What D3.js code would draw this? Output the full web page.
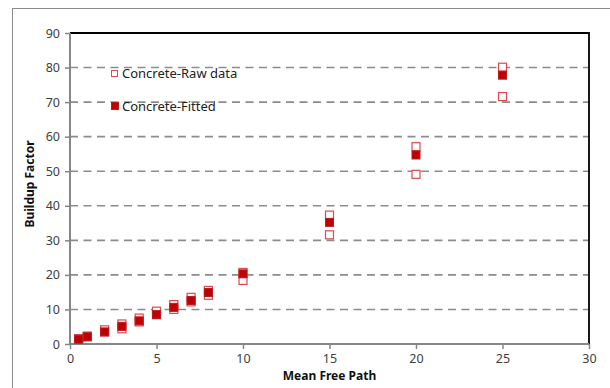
<!DOCTYPE html>
<html><head><meta charset="utf-8">
<script src="https://cdn.jsdelivr.net/npm/d3@7"></script>
<style>
html,body{margin:0;padding:0;background:#fff;}
svg{display:block;font-family:"Noto Sans",sans-serif;}
</style></head>
<body><svg id="c" width="610" height="388"></svg>
<script>
const mfp = [0.5, 1, 2, 3, 4, 5, 6, 7, 8, 10, 15, 20, 25];
const rawUpper = [1.5, 2.3, 4.1, 5.8, 7.5, 9.5, 11.4, 13.5, 15.5, 20.7, 37.3, 57.1, 80.1];
const rawLower = [1.4, 2.1, 3.5, 4.4, 6.4, 8.5, 10.0, 12.2, 14.1, 18.4, 31.6, 49.1, 71.6];
const fitted   = [1.4, 2.1, 3.5, 5.1, 6.7, 8.5, 10.6, 12.6, 14.9, 20.3, 35.2, 54.7, 77.8];
const xTicks = [0, 5, 10, 15, 20, 25, 30];
const yTicks = [0, 10, 20, 30, 40, 50, 60, 70, 80, 90];
const legendLabels = ["Concrete-Raw data", "Concrete-Fitted"];

const svg = d3.select("#c");
const L = 70, R = 589, T = 33, B = 344;
const x = d3.scaleLinear().domain([0, 30]).range([L, R]);
const y = d3.scaleLinear().domain([0, 90]).range([B, T]);

// outer chart border
svg.append("rect").attr("x", 12.5).attr("y", 8.5).attr("width", 610).attr("height", 400)
  .attr("fill", "none").attr("stroke", "#8a8a8a").attr("stroke-width", 1);

// gridlines
svg.append("g").selectAll("line").data(yTicks.filter(v => v > 0 && v < 90)).join("line")
  .attr("x1", L).attr("x2", R).attr("y1", d => y(d)).attr("y2", d => y(d))
  .attr("stroke", "#8c8c8c").attr("stroke-width", 1.6).attr("stroke-dasharray", "8,5.5");

// top and right border (black)
svg.append("path").attr("d", `M${L},${T}H${R}V${B}`).attr("fill", "none")
  .attr("stroke", "#000").attr("stroke-width", 1.8);

// axes
const yAxis = d3.axisLeft(y).tickValues(yTicks).tickSize(5).tickPadding(5);
const gy = svg.append("g").attr("transform", `translate(${L},0)`).call(yAxis);
const xAxis = d3.axisBottom(x).tickValues(xTicks).tickSize(5).tickPadding(5);
const gx = svg.append("g").attr("transform", `translate(0,${B})`).call(xAxis);
[gx, gy].forEach(g => {
  g.select(".domain").attr("stroke", "#868686").attr("stroke-width", 2);
  g.selectAll(".tick line").attr("stroke", "#868686").attr("stroke-width", 1.5);
  g.selectAll(".tick text").attr("fill", "#404040").style("font-size", "12.5px")
    .style("font-family", "'Noto Sans',sans-serif");
});
gx.select(".domain").attr("d", `M${L},0H${R}`);
gy.select(".domain").attr("d", `M0,${B}V${T}`);

// raw data (hollow)
const rawPts = mfp.map((v, i) => [v, rawLower[i]]).concat(mfp.map((v, i) => [v, rawUpper[i]]));
const S = 9;
svg.append("g").selectAll("rect").data(rawPts).join("rect")
  .attr("x", d => x(d[0]) - S / 2 + 0.5).attr("y", d => y(d[1]) - S / 2 + 0.5)
  .attr("width", S - 1).attr("height", S - 1)
  .attr("fill", "#fff").attr("stroke", "#e0484c").attr("stroke-width", 1.2);

// fitted (filled)
svg.append("g").selectAll("rect").data(mfp.map((v, i) => [v, fitted[i]])).join("rect")
  .attr("x", d => x(d[0]) - S / 2 + 0.5).attr("y", d => y(d[1]) - S / 2 + 0.5)
  .attr("width", S - 1).attr("height", S - 1)
  .attr("fill", "#c00000").attr("stroke", "#b41e22").attr("stroke-width", 1);

// legend
const lg = svg.append("g");
lg.append("rect").attr("x", 111.5).attr("y", 70.5).attr("width", 6).attr("height", 6)
  .attr("fill", "#fff").attr("stroke", "#e0484c").attr("stroke-width", 1);
lg.append("rect").attr("x", 111.5).attr("y", 102.5).attr("width", 7).attr("height", 7)
  .attr("fill", "#c00000").attr("stroke", "#b41e22").attr("stroke-width", 1);
lg.selectAll("text").data(legendLabels).join("text")
  .attr("x", 122).attr("y", (d, i) => 78 + i * 33)
  .attr("fill", "#222").style("font-size", "13px").text(d => d);

// axis titles
svg.append("text").attr("x", (L + R) / 2).attr("y", 380).attr("text-anchor", "middle")
  .style("font-size", "12px").style("font-weight", "bold").attr("fill", "#111").text("Mean Free Path");
svg.append("text").attr("transform", `translate(34,184) rotate(-90)`).attr("text-anchor", "middle")
  .style("font-size", "12px").style("font-weight", "bold").attr("fill", "#111").text("Buildup Factor");
</script></body></html>
